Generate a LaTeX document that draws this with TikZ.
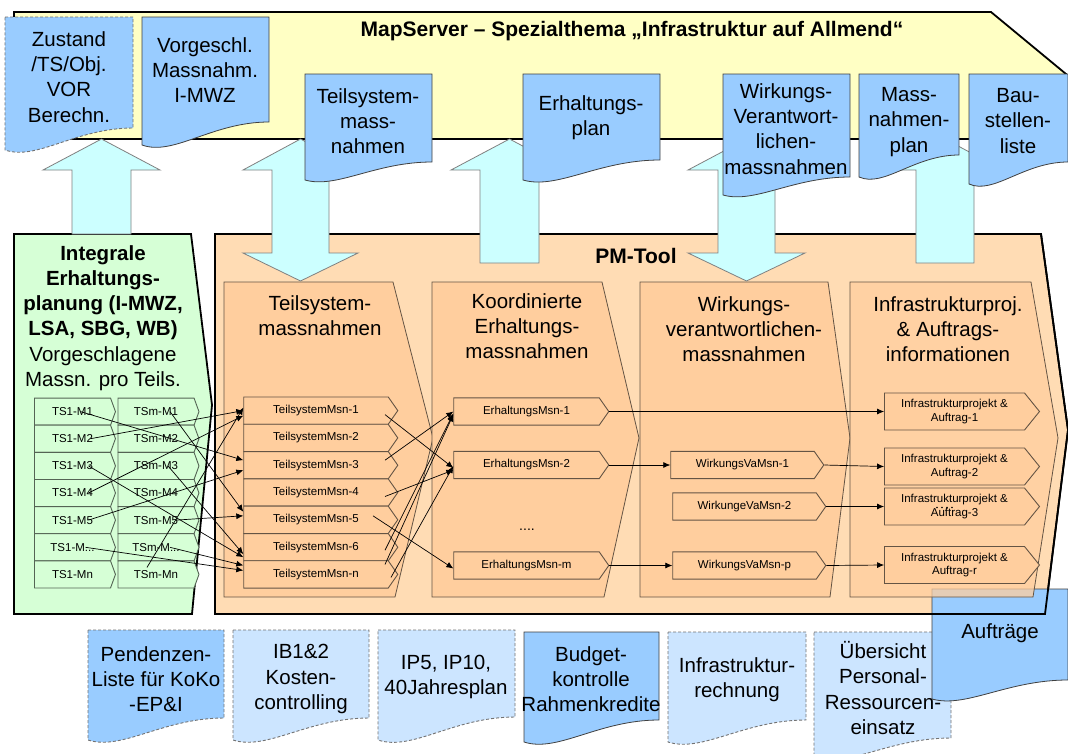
\documentclass[tikz,border=0pt]{standalone}
\usepackage{fontspec}
\setmainfont{Liberation Sans}
\usetikzlibrary{arrows.meta, calc, positioning, shapes.symbols}
\definecolor{mapyellow}{RGB}{255, 255, 196}
\definecolor{docblue}{RGB}{153, 204, 255}
\definecolor{doclight}{RGB}{204, 229, 255}
\definecolor{arrcyan}{RGB}{204, 255, 255}
\definecolor{plangreen}{RGB}{214, 255, 214}
\definecolor{pmouter}{RGB}{255, 220, 180}
\definecolor{pminner}{RGB}{255, 206, 158}
\definecolor{cellline}{RGB}{100, 84, 68}
\definecolor{greenline}{RGB}{84, 100, 84}
\newcommand{\docshape}[6]{%
	\draw[#1] (#2,#3) -- (#4,#3) -- (#4,#5)
		.. controls ({#2+0.55*(#4-#2)},#5) and ({#2+0.25*(#4-#2)},{#6+0.5*(#6-#5)}) .. (#2,#6) -- cycle;}

\begin{document}
\begin{tikzpicture}[x=1pt, y=-1pt,
				bigfont/.style={font=\fontsize{20.5}{25.3}\selectfont},
				doctext/.style={bigfont, align=center, inner sep=0pt},
				docsolid/.style={fill=docblue, draw=black!75, line width=0.8pt},
				docdashed/.style={fill=#1, draw=black!55, dash pattern=on 3pt off 2pt, line width=0.9pt},
				blockarr/.style={fill=arrcyan, draw=black!50, line width=0.8pt},
				frame/.style={draw=black, line width=1.8pt},
				colbox/.style={fill=pminner, draw=cellline, line width=0.8pt},
				gcell/.style={shape=signal, signal to=east, signal pointer angle=140,
					draw=greenline, fill=plangreen, line width=0.9pt, inner sep=0pt,
					minimum width=81pt, minimum height=27.1pt, font=\fontsize{11.5}{13}\selectfont},
				ocell/.style={shape=signal, signal to=east, signal pointer angle=110,
					draw=cellline, fill=pminner, line width=0.9pt, inner sep=0pt,
					minimum width=154pt, minimum height=27.3pt, font=\fontsize{11.5}{13}\selectfont},
				icell/.style={ocell, signal pointer angle=102, minimum height=37pt,
					align=center, font=\fontsize{11.5}{13.5}\selectfont},
				arr/.style={-{Latex[length=7pt, width=6pt]}, line width=0.7pt}
				]
				\useasboundingbox (0,0) rectangle (1068,753);
				\fill[white] (0,0) rectangle (1068,753);
				% Erhaltungsplanung and PM-Tool
				\path[frame, fill=plangreen] (14,234) -- (191,234) -- (212,405) -- (192,614) -- (14,614) -- cycle;
				\path[frame, fill=pmouter] (215,234) -- (1041,234) -- (1068,430) -- (1045,614) -- (215,614) -- cycle;
				\node[font=\fontsize{21}{24}\selectfont\bfseries] (pmtool) at (636,256) {PM-Tool};
				% documents below
				\docshape{docdashed=docblue}{88}{630}{224}{718}{740}
				\docshape{docdashed=doclight}{233}{630}{369}{718}{740}
				\docshape{docdashed=doclight}{378}{630}{515}{717}{740}
				\docshape{docsolid}{524}{632}{659}{720}{742}
				\docshape{docdashed=doclight}{668}{632}{806}{720}{742}
				\docshape{docdashed=doclight}{814}{632}{951}{738}{758}
				\docshape{docsolid}{932}{589}{1068}{680}{699}
				\node[doctext] (pendenz) at (156,679) {Pendenzen-\\Liste für KoKo\\-EP\&I};
				\node[doctext] (ibkosten) at (301,679) {IB1\&2\\Kosten-\\controlling};
				\node[doctext] (ipplan) at (446,677) {IP5, IP10,\\40Jahresplan};
				\node[doctext] (budget) at (591,679) {Budget-\\kontrolle\\Rahmenkredite};
				\node[doctext] (irechnung) at (737,680) {Infrastruktur-\\rechnung};
				\node[doctext] (uebersicht) at (883,688) {Übersicht\\Personal-\\Ressourcen-\\einsatz};
				\node[doctext] (auftraege) at (1000,633) {Aufträge};
				% columns
				\path[colbox] (224,282) -- (393,282) -- (433,438) -- (395,597) -- (224,597) -- cycle;
				\path[colbox] (432,282) -- (602,282) -- (639,438) -- (604,597) -- (432,597) -- cycle;
				\path[colbox] (640,282) -- (828,282) -- (850,438) -- (830,597) -- (640,597) -- cycle;
				\path[colbox, fill opacity=0.75] (850,282) -- (1031,282) -- (1058,438) -- (1033,597) -- (850,597) -- cycle;
				\draw[frame] (215,234) -- (1041,234) -- (1068,430) -- (1045,614) -- (215,614) -- cycle;
				\node[doctext] (h1) at (320,316) {Teilsystem-\\massnahmen};
				\node[doctext] (h2) at (527,326) {Koordinierte\\Erhaltungs-\\massnahmen};
				\node[doctext] (h3) at (744,329) {Wirkungs-\\verantwortlichen-\\massnahmen};
				\node[doctext] (h4) at (948,329) {Infrastrukturproj.\\\& Auftrags-\\informationen};
				\node[doctext] (ierh) at (103,318) {\textbf{Integrale}\\\textbf{Erhaltungs-}\\\textbf{planung (I-MWZ,}\\\textbf{LSA, SBG, WB)}\\Vorgeschlagene\\Massn. pro Teils.};
				% MapServer
				\path[frame, fill=mapyellow] (14,12) -- (991,12) -- (1066,74) -- (1066,139) -- (14,139) -- cycle;
				\node[font=\fontsize{21}{24}\selectfont\bfseries] (mapserver) at (632,31) {MapServer -- Spezialthema „Infrastruktur auf Allmend“};
				% block arrows
				\path[blockarr] (72,234) -- (72,170) -- (43,170) -- (101.5,139) -- (160,170) -- (131,170) -- (131,234) -- cycle;
				\path[blockarr] (272,170) -- (243,170) -- (300.5,139) -- (358,170) -- (329,170) -- (329,253) -- (358,253) -- (300.5,281) -- (243,253) -- (272,253) -- cycle;
				\path[blockarr] (480,263) -- (480,170) -- (451,170) -- (509.5,139) -- (568,170) -- (539,170) -- (539,263) -- cycle;
				\path[blockarr] (718,170) -- (688,170) -- (746.5,139) -- (805,170) -- (775,170) -- (775,253) -- (805,253) -- (746.5,281) -- (688,253) -- (718,253) -- cycle;
				\path[blockarr] (916,263) -- (916,170) -- (887,170) -- (945,139) -- (1003,170) -- (974,170) -- (974,263) -- cycle;
				% documents above
				\docshape{docdashed=docblue}{5}{17}{133}{128}{150}
				\docshape{docsolid}{142}{17}{269}{122}{145}
				\docshape{docsolid}{305}{74}{432}{162}{180}
				\docshape{docsolid}{523}{74}{660}{160}{180}
				\docshape{docsolid}{723}{74}{850}{177}{195}
				\docshape{docsolid}{859}{74}{959}{155}{177}
				\docshape{docsolid}{969}{74}{1068}{162}{184}
				\node[doctext] (zustand) at (69,77) {Zustand\\/TS/Obj.\\VOR\\Berechn.};
				\node[doctext] (vorgeschl) at (205,70) {Vorgeschl.\\Massnahm.\\I-MWZ};
				\node[doctext] (tsdoc) at (368,121) {Teilsystem-\\mass-\\nahmen};
				\node[doctext] (ehplan) at (591,118) {Erhaltungs-\\plan};
				\node[doctext] (wvdoc) at (786,129) {Wirkungs-\\Verantwort-\\lichen-\\massnahmen};
				\node[doctext] (mplan) at (909,122) {Mass-\\nahmen-\\plan};
				\node[doctext] (bliste) at (1018,121) {Bau-\\stellen-\\liste};
				% cells
				\node[gcell] (a1) at (72.5,411.6) {TS1-M1};
				\node[gcell] (a2) at (72.5,438.7) {TS1-M2};
				\node[gcell] (a3) at (72.5,465.9) {TS1-M3};
				\node[gcell] (a4) at (72.5,493.0) {TS1-M4};
				\node[gcell] (a5) at (72.5,520.1) {TS1-M5};
				\node[gcell] (a6) at (72.5,547.3) {TS1-M...};
				\node[gcell] (a7) at (72.5,574.4) {TS1-Mn};
				\node[gcell] (b1) at (156,411.6) {TSm-M1};
				\node[gcell] (b2) at (156,438.7) {TSm-M2};
				\node[gcell] (b3) at (156,465.9) {TSm-M3};
				\node[gcell] (b4) at (156,493.0) {TSm-M4};
				\node[gcell] (b5) at (156,520.1) {TSm-M5};
				\node[gcell] (b6) at (156,547.3) {TSm-M...};
				\node[gcell] (b7) at (156,574.4) {TSm-Mn};
				\node[ocell] (t1) at (316,410.6) {TeilsystemMsn-1};
				\node[ocell] (t2) at (316,437.9) {TeilsystemMsn-2};
				\node[ocell] (t3) at (316,465.2) {TeilsystemMsn-3};
				\node[ocell] (t4) at (316,492.5) {TeilsystemMsn-4};
				\node[ocell] (t5) at (316,519.8) {TeilsystemMsn-5};
				\node[ocell] (t6) at (316,547.2) {TeilsystemMsn-6};
				\node[ocell] (t7) at (316,574.4) {TeilsystemMsn-n};
				\node[ocell, minimum width=155pt] (e1) at (526.5,411.5) {ErhaltungsMsn-1};
				\node[ocell, minimum width=155pt] (e2) at (526.5,465) {ErhaltungsMsn-2};
				\node[ocell, minimum width=155pt] (em) at (526.5,565.5) {ErhaltungsMsn-m};
				\node[font=\fontsize{14}{16}\selectfont] (edots) at (527,530) {....};
				\node[ocell, minimum width=153pt] (w1) at (742.5,465) {WirkungsVaMsn-1};
				\node[ocell, minimum width=153pt] (w2) at (744.5,506.5) {WirkungeVaMsn-2};
				\node[ocell, minimum width=153pt] (wp) at (744.5,565.5) {WirkungsVaMsn-p};
				\node[icell, minimum width=155pt] (i1) at (954.5,411.5) {Infrastrukturprojekt \&\\Auftrag-1};
				\node[icell, minimum width=155pt] (i2) at (954.5,466.5) {Infrastrukturprojekt \&\\Auftrag-2};
				\node[icell, minimum width=155pt] (i3) at (954.5,506.5) {Infrastrukturprojekt \&\\Auftrag-3};
				\node[icell, minimum width=155pt] (i4) at (954.5,565) {Infrastrukturprojekt \&\\Auftrag-r};
				\foreach \dx in {937,942,947,952}
					\fill (\dx,507.5) circle (0.8pt);
				% connectors
				\draw[arr] ([xshift=8pt]a1.center) -- ([yshift=5pt]t3.west);
				\draw[arr] ([xshift=18pt]a2.center) -- (t1.west);
				\draw[arr] ([xshift=16pt]a3.center) -- ([yshift=-10pt]t6.west);
				\draw[arr] ([xshift=16pt]a4.center) -- ([yshift=-5pt]t1.west);
				\draw[arr] ([xshift=16pt]a5.center) -- ([yshift=-5pt]t3.west);
				\draw[arr] ([xshift=13pt]a6.center) -- ([yshift=4pt]t7.west);
				\draw[arr] ([xshift=14pt]b1.center) -- ([yshift=8pt]t5.west);
				\draw[arr] ([xshift=12pt]b3.center) -- ([yshift=-7pt]t6.west);
				\draw[arr] ([xshift=20pt]b5.center) -- ([yshift=4pt]t5.west);
				\draw[arr] ([xshift=14pt]b6.center) -- ([yshift=9pt]t7.west);
				\draw[arr] ([xshift=-9pt, yshift=7pt]b7.center) -- ([yshift=3pt]t1.west);
				\draw[arr] ([xshift=69pt, yshift=-4pt]t1.center) -- ([yshift=-3pt]e2.west);
				\draw[arr] ([xshift=69pt, yshift=5pt]t3.center) -- (e1.west);
				\draw[arr] ([xshift=69pt, yshift=-4pt]t4.center) -- ([yshift=-5pt]e2.west);
				\draw[arr] ([xshift=57pt, yshift=4pt]t5.center) -- ([yshift=-3pt]em.west);
				\draw[arr] ([xshift=69pt, yshift=-3pt]t6.center) -- ([yshift=-2pt]e1.west);
				\draw[arr] ([xshift=69pt, yshift=10pt]t7.center) -- ([yshift=-3pt]e1.west);
				\draw[arr] ([xshift=75pt, yshift=-3pt]t7.center) -- ([yshift=-1pt]e2.west);
				\draw[arr] (e1.east) -- (i1.west);
				\draw[arr] (e2.east) -- (w1.west);
				\draw[arr] (em.east) -- (wp.west);
				\draw[arr] (w1.east) -- (i2.west);
				\draw[arr] (w2.east) -- (i3.west);
				\draw[arr] (wp.east) -- (i4.west);
			\end{tikzpicture}
\end{document}
